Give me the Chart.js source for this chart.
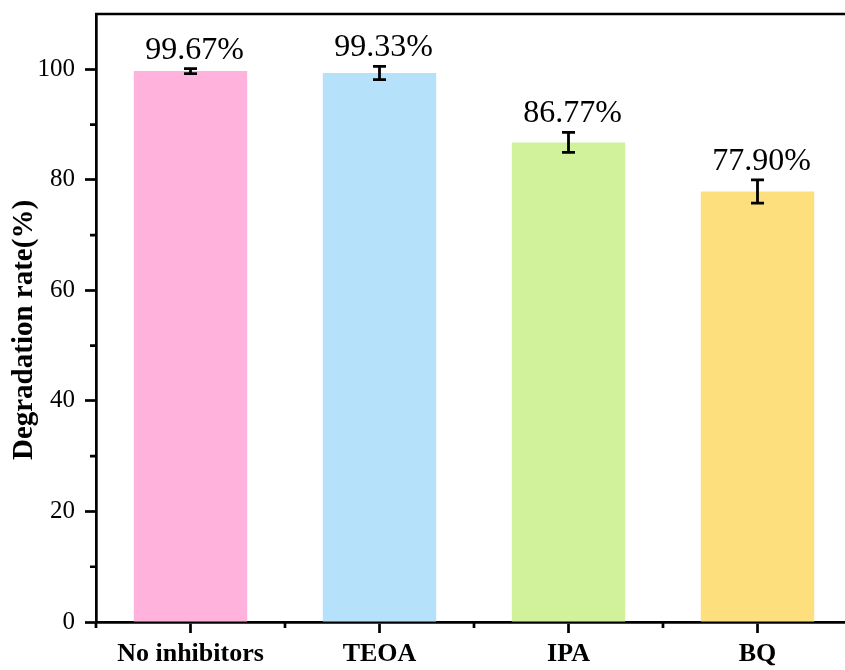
<!DOCTYPE html>
<html>
<head>
<meta charset="utf-8">
<script src="https://cdn.jsdelivr.net/npm/chart.js"></script>
<style>
  html, body { margin: 0; padding: 0; background: #fff; overflow: hidden; }
  #wrap { width: 845px; height: 670px; overflow: hidden; }
</style>
</head>
<body>
<div id="wrap"><canvas id="degradationChart" width="860" height="670"></canvas></div>
<script>
const categories = ['No inhibitors', 'TEOA', 'IPA', 'BQ'];
const degradation = [99.67, 99.33, 86.77, 77.90];
const errors = [0.45, 1.2, 1.8, 2.1];
const barColors = ['#FFB3DC', '#B6E1FB', '#D1F29A', '#FDDF7E'];
const yTickLabels = [0, 20, 40, 60, 80, 100];
const yMinorTicks = [10, 30, 50, 70, 90];
const yTitle = 'Degradation rate(%)';

const SERIF = "'Liberation Serif', 'Times New Roman', serif";
const AXIS_W = 2.7;

// frame, minor ticks, error bars, value labels and the y title
const errorBarsAndLabels = {
    id: 'errorBarsAndLabels',
    afterDraw(chart) {
        const ctx = chart.ctx;
        const x = chart.scales.x;
        const y = chart.scales.y;
        const area = chart.chartArea;
        ctx.save();
        ctx.strokeStyle = '#000';
        ctx.lineWidth = AXIS_W;
        ctx.beginPath();
        ctx.moveTo(area.left - 1, area.top);
        ctx.lineTo(area.right, area.top);
        ctx.lineTo(area.right, area.bottom);
        ctx.stroke();

        // minor ticks
        ctx.beginPath();
        yMinorTicks.forEach(v => {
            const py = y.getPixelForValue(v);
            ctx.moveTo(area.left - 6, py);
            ctx.lineTo(area.left, py);
        });
        const half = (x.getPixelForValue(1) - x.getPixelForValue(0)) / 2;
        for (let i = 0; i <= categories.length; i++) {
            const px = x.getPixelForValue(0) - half + i * half * 2;
            ctx.moveTo(px, area.bottom);
            ctx.lineTo(px, area.bottom + 6);
        }
        ctx.stroke();

        // error bars
        ctx.lineWidth = 2.8;
        ctx.fillStyle = '#000';
        ctx.font = '32px ' + SERIF;
        ctx.textAlign = 'center';
        ctx.textBaseline = 'alphabetic';
        chart.getDatasetMeta(0).data.forEach((bar, i) => {
            const cx = bar.x;
            const top = y.getPixelForValue(degradation[i] + errors[i]);
            const bot = y.getPixelForValue(degradation[i] - errors[i]);
            ctx.beginPath();
            ctx.moveTo(cx, top);
            ctx.lineTo(cx, bot);
            ctx.moveTo(cx - 6.5, top);
            ctx.lineTo(cx + 6.5, top);
            ctx.moveTo(cx - 6.5, bot);
            ctx.lineTo(cx + 6.5, bot);
            ctx.stroke();
            ctx.fillText(degradation[i].toFixed(2) + '%', cx + 4, top - 10);
        });

        // y axis title
        ctx.translate(25, (area.top + area.bottom) / 2 + 12);
        ctx.rotate(-Math.PI / 2);
        ctx.font = 'bold 29px ' + SERIF;
        ctx.textBaseline = 'middle';
        ctx.fillText(yTitle, 0, 0);
        ctx.restore();
    }
};

const ctx = document.getElementById('degradationChart');
new Chart(ctx, {
    type: 'bar',
    plugins: [errorBarsAndLabels],
    data: {
        labels: categories,
        datasets: [{
            data: degradation,
            backgroundColor: barColors,
            borderWidth: 0,
            barPercentage: 0.6,
            categoryPercentage: 1.0,
        }]
    },
    options: {
        responsive: false,
        animation: false,
        layout: {
            padding: { left: 0, top: 14, right: 8, bottom: 0 }
        },
        plugins: {
            legend: { display: false },
            tooltip: { enabled: false },
        },
        scales: {
            x: {
                grid: {
                    offset: false,
                    drawOnChartArea: false,
                    drawTicks: true,
                    tickLength: 11,
                    tickWidth: AXIS_W,
                    tickColor: '#000',
                },
                border: { display: true, color: '#000', width: AXIS_W },
                ticks: {
                    color: '#000',
                    padding: 6,
                    maxRotation: 0,
                    font: { family: SERIF, size: 26, weight: 'bold' },
                },
                afterFit(scale) {
                    scale.height = 48;
                    scale.paddingLeft = 0;
                    scale.paddingRight = 0;
                },
            },
            y: {
                min: 0,
                max: 110,
                grid: {
                    drawOnChartArea: false,
                    drawTicks: true,
                    tickLength: 11,
                    tickWidth: AXIS_W,
                    tickColor: (c) => yTickLabels.includes(c.tick && c.tick.value) ? '#000' : 'rgba(0,0,0,0)',
                },
                border: { display: true, color: '#000', width: AXIS_W },
                ticks: {
                    stepSize: 20,
                    color: '#000',
                    padding: 10,
                    font: { family: SERIF, size: 25 },
                    callback: (v) => yTickLabels.includes(v) ? String(v) : '',
                },
                afterFit(scale) {
                    scale.width = 96;
                    scale.paddingTop = 0;
                    scale.paddingBottom = 0;
                },
            },
        },
    },
});
</script>
</body>
</html>
